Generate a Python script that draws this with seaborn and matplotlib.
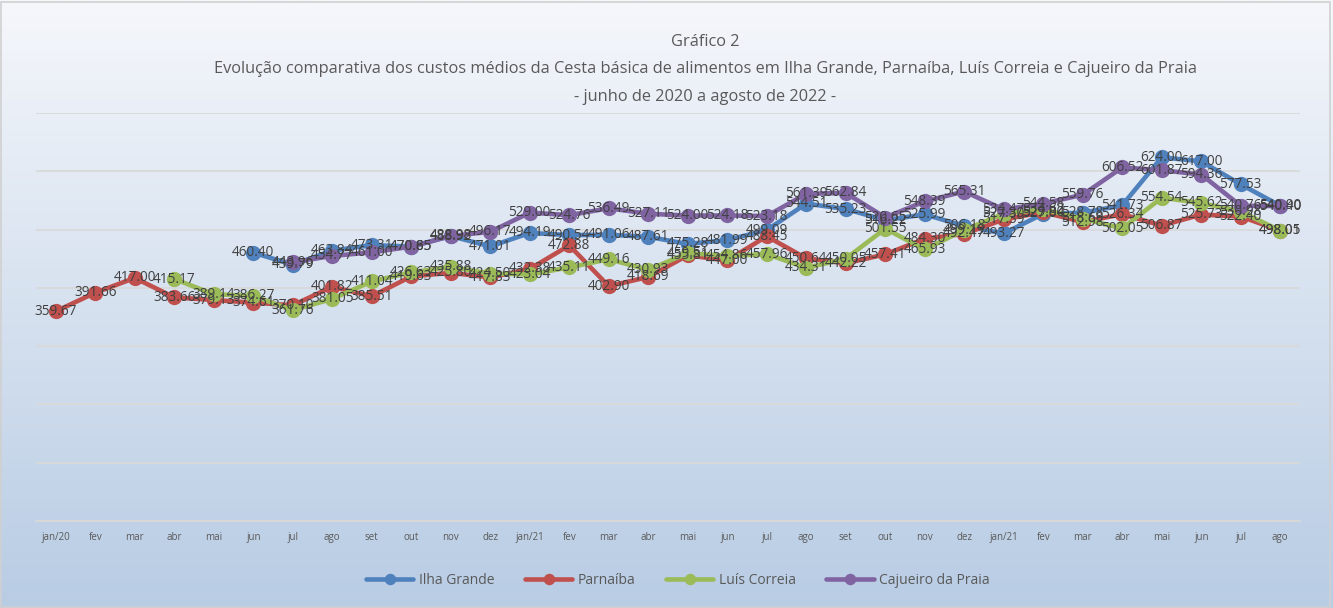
import numpy as np
import pandas as pd
import matplotlib
matplotlib.use("Agg")
import matplotlib.pyplot as plt
import seaborn as sns

nan = np.nan
months = ["jan/20", "fev", "mar", "abr", "mai", "jun", "jul", "ago", "set", "out", "nov", "dez",
          "jan/21", "fev", "mar", "abr", "mai", "jun", "jul", "ago", "set", "out", "nov", "dez",
          "jan/21", "fev", "mar", "abr", "mai", "jun", "jul", "ago"]

ilha_grande = [nan] * 5 + [460.40, 439.79, 463.84, 473.31, 470.85, 488.92, 471.01, 494.19, 490.54,
                           491.06, 487.61, 475.28, 481.99, 499.09, 544.51, 535.23, 516.22, 525.99,
                           506.18, 493.27, 527.04, 528.78, 541.73, 624.00, 617.00, 577.53, 540.90]
parnaiba = [359.67, 391.66, 417.00, 383.66, 379.13, 374.61, 370.10, 401.82, 385.51, 419.63, 425.80,
            417.83, 432.38, 472.88, 402.90, 418.69, 455.81, 447.00, 488.45, 450.64, 442.22, 457.41,
            484.30, 492.47, 517.39, 529.80, 512.98, 526.34, 506.87, 525.73, 522.40, 498.05]
luis_correia = [nan] * 3 + [415.17, 389.14, 386.27, 361.76, 381.05, 411.04, 426.63, 435.88, 424.50,
                            423.04, 435.11, 449.16, 430.93, 459.51, 454.86, 457.96, 434.31, 450.05,
                            501.55, 465.93, 499.19, 527.30, 534.62, 518.69, 502.05, 554.54, 545.62,
                            530.98, 498.01]
cajueiro = [nan] * 6 + [443.96, 454.77, 461.00, 470.65, 488.98, 496.17, 529.00, 524.76, 536.49,
                        527.11, 524.00, 524.18, 523.18, 561.39, 562.84, 520.65, 548.39, 565.31,
                        534.47, 544.58, 559.76, 606.52, 601.87, 594.36, 540.76, 540.40]

series_names = ["Ilha Grande", "Parnaíba", "Luís Correia", "Cajueiro da Praia"]
series_values = [ilha_grande, parnaiba, luis_correia, cajueiro]
colors = ["#4F81BD", "#C0504D", "#9BBB59", "#8064A2"]

rows = []
for name, vals in zip(series_names, series_values):
    for i, v in enumerate(vals):
        rows.append({"pos": i, "valor": v, "serie": name})
df = pd.DataFrame(rows).dropna()

sns.set_theme(style="white")
plt.rcParams["font.family"] = ["Open Sans", "DejaVu Sans"]

fig = plt.figure(figsize=(13.33, 6.08), dpi=100)

# gradient background
bg = fig.add_axes([0, 0, 1, 1], zorder=-10)
grad = np.linspace(0, 1, 256).reshape(-1, 1)
top = np.array([0xF5, 0xF7, 0xFB]) / 255
bot = np.array([0xB8, 0xCC, 0xE4]) / 255
img = top + (bot - top) * grad[..., None]
bg.imshow(img, aspect="auto", extent=[0, 1, 0, 1], origin="upper")
bg.set_xlim(0, 1); bg.set_ylim(0, 1)
bg.axis("off")
bg.add_patch(plt.Rectangle((0.001, 0.002), 0.997, 0.995, fill=False, edgecolor="#D0D0D0", lw=1.2,
                           transform=bg.transAxes))

ax = fig.add_axes([36 / 1333, 1 - 521 / 608, (1300 - 36) / 1333, (521 - 113) / 608])
ax.patch.set_alpha(0)

sns.lineplot(data=df, x="pos", y="valor", hue="serie", hue_order=series_names,
             palette=colors, marker="o", markersize=11, markeredgewidth=0, linewidth=3.3,
             ax=ax, zorder=3)

for name, vals in zip(series_names, series_values):
    for i, v in enumerate(vals):
        if not np.isnan(v):
            ax.text(i, v, f"{v:.2f}", ha="center", va="center", fontsize=9.8,
                    color="#404040", zorder=5)

ax.set_xlim(-0.5, len(months) - 0.5)
ax.set_ylim(0, 700)
ax.set_yticks(np.arange(0, 701, 100))
ax.yaxis.grid(True, color="#D9D9D9", linewidth=1.3)
ax.xaxis.grid(False)
ax.set_yticklabels([])
ax.tick_params(axis="y", length=0)
ax.set_xticks(range(len(months)))
ax.set_xticklabels(months, fontsize=7, color="#595959")
ax.tick_params(axis="x", length=0, pad=8)
ax.set_xlabel("")
ax.set_ylabel("")
for s in ["top", "right", "left"]:
    ax.spines[s].set_visible(False)
ax.spines["bottom"].set_color("#D9D9D9")
ax.spines["bottom"].set_linewidth(1.3)

handles, labels = ax.get_legend_handles_labels()
ax.get_legend().remove()
fig.legend(handles, labels, loc="center", bbox_to_anchor=(678 / 1333, 1 - 580 / 608), ncol=4,
           frameon=False, fontsize=10, handlelength=3.4, columnspacing=2.2, markerscale=0.75,
           labelcolor="#595959", handletextpad=0.4)

tc = "#595959"
fig.text(705 / 1333, 1 - 42 / 608, "Gráfico 2", ha="center", va="center", fontsize=11.8, color=tc)
fig.text(705 / 1333, 1 - 69 / 608,
         "Evolução comparativa dos custos médios da Cesta básica de alimentos em Ilha Grande, Parnaíba, Luís Correia e Cajueiro da Praia",
         ha="center", va="center", fontsize=11.8, color=tc)
fig.text(705 / 1333, 1 - 97 / 608, "- junho de 2020 a agosto de 2022 -", ha="center", va="center",
         fontsize=11.8, color=tc)

fig.savefig("out.png", dpi=100)
